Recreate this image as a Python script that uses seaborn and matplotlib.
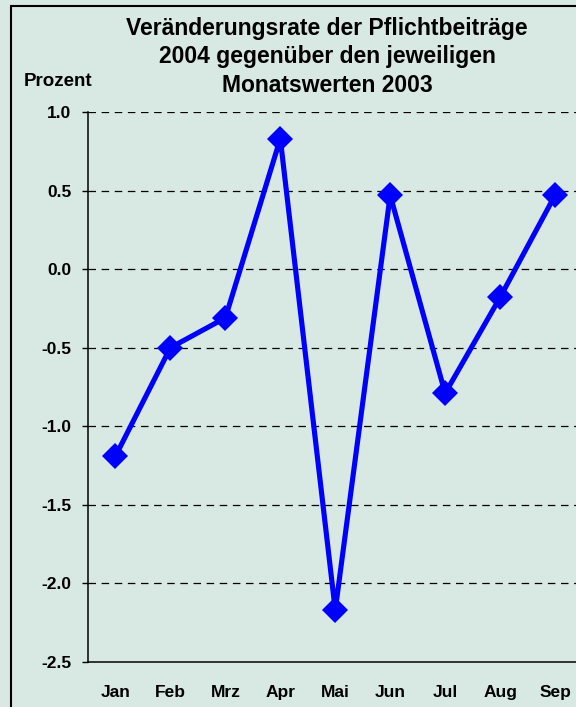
import pandas as pd
import seaborn as sns
import matplotlib.pyplot as plt
from matplotlib.patches import Rectangle

months = ["Jan", "Feb", "Mrz", "Apr", "Mai", "Jun", "Jul", "Aug", "Sep"]
rate = [-1.19, -0.50, -0.31, 0.83, -2.17, 0.47, -0.79, -0.18, 0.47]
yticks = [-2.5, -2.0, -1.5, -1.0, -0.5, 0.0, 0.5, 1.0]

bg = "#d8e8e2"
sns.set_style("white")
plt.rcParams["font.family"] = ["Liberation Sans", "DejaVu Sans"]
plt.rcParams["text.color"] = "black"
plt.rcParams["xtick.color"] = "black"
plt.rcParams["ytick.color"] = "black"

df = pd.DataFrame({"Monat": months, "Prozent": rate})

fig = plt.figure(figsize=(5.76, 7.07), dpi=100, facecolor=bg)
ax = fig.add_axes([88 / 576, 1 - 662 / 707, 494.5 / 576, 550 / 707])
ax.set_facecolor(bg)

sns.lineplot(data=df, x="Monat", y="Prozent", sort=False, color="#0000ff",
             linewidth=3.7, marker="D", markersize=13, markeredgewidth=0, ax=ax)

ax.set_xlim(-0.5, len(months) - 0.5)
ax.set_ylim(-2.5, 1.0)
ax.set_yticks(yticks)
ax.set_yticklabels([f"{v:.1f}" for v in yticks])
for v in yticks[1:]:
    ax.axhline(v, color="black", linestyle=(0, (6, 4.5)), linewidth=0.9, zorder=0)

for s in ["top", "right"]:
    ax.spines[s].set_visible(False)
for s in ["left", "bottom"]:
    ax.spines[s].set_color("black")
    ax.spines[s].set_linewidth(1.1)

ax.tick_params(axis="y", left=True, length=4, width=1, pad=8, labelsize=12.5,
               labelcolor="black")
ax.tick_params(axis="x", bottom=False, pad=13, labelsize=12.5, labelcolor="black")
for lab in ax.get_xticklabels() + ax.get_yticklabels():
    lab.set_fontweight("bold")
ax.set_xlabel("")
ax.set_ylabel("")

fig.text(24 / 576, 1 - 82 / 707, "Prozent", fontsize=13.5, fontweight="bold",
         va="center", ha="left", color="black")
fig.text(327 / 576, 1 - 57 / 707,
         "Veränderungsrate der Pflichtbeiträge\n2004 gegenüber den jeweiligen\nMonatswerten 2003",
         fontsize=16.5, fontweight="bold", ha="center", va="center", linespacing=1.32,
         color="black")

fig.patches.append(Rectangle((11 / 576, -0.1), 2, 1.1 - 6 / 707, transform=fig.transFigure,
                             fill=False, edgecolor="black", linewidth=1.5))

fig.savefig("out.png", dpi=100, facecolor=bg)
